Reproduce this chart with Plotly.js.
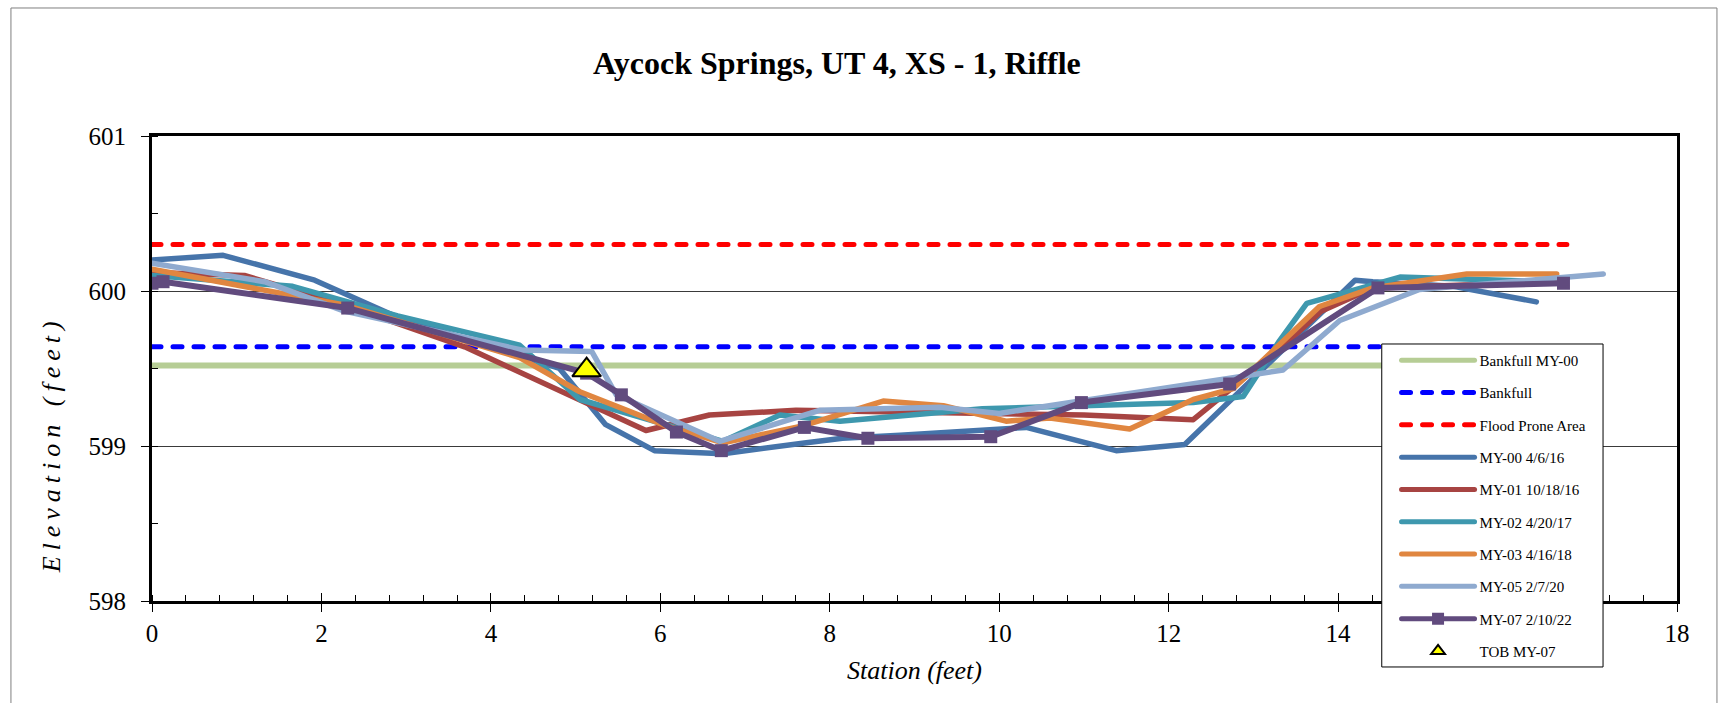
<!DOCTYPE html>
<html>
<head>
<meta charset="utf-8">
<script src="https://cdn.plot.ly/plotly-3.0.1.min.js"></script>
<style>
html, body { margin: 0; padding: 0; background: #fff; }
#chart { width: 1720px; height: 703px; }
</style>
</head>
<body>
<div id="chart"></div>
<script>
// Axis ticks (the "16" label sits hidden behind the legend in the original)
const xTickVals = [0, 2, 4, 6, 8, 10, 12, 14, 16, 18];
const xTickText = ['0', '2', '4', '6', '8', '10', '12', '14', '', '18'];

// Reference lines
const refStation = [0, 16.7];
const bankfullMY00 = [599.52, 599.52];
const bankfull = [599.64, 599.64];
const floodProne = [600.30, 600.30];

// MY-00 4/6/16
const my00X = [0.00, 0.84, 1.92, 2.90, 4.81, 5.35, 5.93, 6.74, 7.70, 8.15, 8.83, 10.32, 11.38, 12.19, 14.20, 14.41, 15.36, 16.34];
const my00Y = [600.20, 600.23, 600.07, 599.83, 599.50, 599.14, 598.97, 598.95, 599.02, 599.05, 599.07, 599.12, 598.97, 599.01, 600.07, 600.06, 600.03, 599.93];

// MY-01 10/18/16
const my01X = [0.00, 1.09, 2.27, 3.69, 5.83, 6.58, 7.60, 8.80, 10.00, 11.00, 12.29, 12.76, 13.30, 13.80, 14.41, 16.65];
const my01Y = [600.12, 600.10, 599.91, 599.64, 599.10, 599.20, 599.23, 599.22, 599.21, 599.20, 599.17, 599.38, 599.62, 599.87, 600.02, 600.06];

// MY-02 4/20/17
const my02X = [0.00, 1.66, 2.90, 4.34, 5.05, 6.74, 7.41, 8.12, 9.80, 12.29, 12.88, 13.31, 13.63, 14.73, 16.46];
const my02Y = [600.10, 600.03, 599.84, 599.65, 599.30, 599.03, 599.20, 599.16, 599.24, 599.28, 599.32, 599.68, 599.92, 600.09, 600.06];

// MY-03 4/16/18
const my03X = [0.00, 2.27, 4.34, 5.05, 6.07, 6.74, 7.68, 8.63, 9.34, 10.08, 10.60, 11.54, 12.29, 12.76, 13.78, 14.41, 15.52, 16.58];
const my03Y = [600.14, 599.91, 599.57, 599.35, 599.13, 599.02, 599.13, 599.29, 599.26, 599.16, 599.18, 599.11, 599.30, 599.37, 599.90, 600.02, 600.11, 600.11];

// MY-05 2/7/20
const my05X = [0.00, 1.33, 2.27, 4.36, 5.19, 5.48, 6.70, 7.88, 9.30, 10.00, 13.35, 14.02, 14.96, 17.13];
const my05Y = [600.18, 600.06, 599.87, 599.62, 599.61, 599.33, 599.03, 599.23, 599.25, 599.21, 599.49, 599.81, 600.01, 600.11];

// MY-07 2/10/22
const my07X = [0.00, 0.13, 2.31, 5.13, 5.54, 6.19, 6.72, 7.70, 8.45, 9.90, 10.97, 12.72, 14.47, 16.66];
const my07Y = [600.05, 600.06, 599.89, 599.47, 599.33, 599.09, 598.97, 599.12, 599.05, 599.06, 599.28, 599.40, 600.02, 600.05];

// TOB MY-07
const tobX = [5.13];
const tobY = [599.49];

const serif = 'Liberation Serif, Times New Roman, serif';

function lineTrace(name, x, y, color, width, dash, group) {
  return {
    type: 'scatter', mode: 'lines', name: name, x: x, y: y,
    line: { color: color, width: width, dash: dash || 'solid' },
    legendgroup: group, hoverinfo: 'skip'
  };
}

const traces = [
  lineTrace('Bankfull MY-00', refStation, bankfullMY00, '#b6cd95', 6, 'solid', 'g0'),
  lineTrace('Bankfull', refStation, bankfull, '#0000ff', 5, '9px,12px', 'g1'),
  lineTrace('Flood Prone Area', refStation, floodProne, '#ff0000', 5, '9px,12px', 'g2'),
  lineTrace('MY-00 4/6/16', my00X, my00Y, '#4674aa', 5.5, 'solid', 'g3'),
  lineTrace('MY-01 10/18/16', my01X, my01Y, '#a74442', 5.5, 'solid', 'g4'),
  lineTrace('MY-02 4/20/17', my02X, my02Y, '#3e98ae', 5.5, 'solid', 'g5'),
  lineTrace('MY-03 4/16/18', my03X, my03Y, '#e08640', 5.5, 'solid', 'g6'),
  lineTrace('MY-05 2/7/20', my05X, my05Y, '#8faacf', 5.5, 'solid', 'g7'),
  {
    type: 'scatter', mode: 'lines+markers', name: 'MY-07 2/10/22', x: my07X, y: my07Y,
    line: { color: '#614b7e', width: 6 },
    marker: { symbol: 'square', size: 13, color: '#614b7e' },
    legendgroup: 'g8', hoverinfo: 'skip'
  },
  {
    type: 'scatter', mode: 'markers', name: 'TOB MY-07', x: tobX, y: tobY,
    marker: { symbol: 'triangle-up', size: 25, color: '#ffff00', line: { color: '#000000', width: 2 } },
    legendgroup: 'g9', hoverinfo: 'skip'
  },
  // empty helper on the overlay axis so its inside major ticks draw
  { type: 'scatter', mode: 'none', x: [], y: [], xaxis: 'x2', showlegend: false, hoverinfo: 'skip' }
];

const layout = {
  width: 1720, height: 703,
  paper_bgcolor: '#ffffff', plot_bgcolor: '#ffffff',
  margin: { l: 152, r: 43, t: 136, b: 102, pad: 0 },
  font: { family: serif, color: '#000000', size: 25 },
  title: {
    text: 'Aycock Springs, UT 4, XS - 1, Riffle',
    font: { family: serif, size: 32, weight: 'bold', color: '#000000' },
    x: 0.4866, xanchor: 'center', y: 0.91, yanchor: 'middle'
  },
  showlegend: true,
  legend: {
    x: 0.8161, xanchor: 'left', y: 0.5527, yanchor: 'top',
    bgcolor: 'rgba(255,255,255,0)', borderwidth: 0,
    font: { family: serif, size: 15, color: '#000000' },
    itemwidth: 73, itemsizing: 'constant',
    traceorder: 'grouped', tracegroupgap: 9.8
  },
  xaxis: {
    range: [0, 18], tickmode: 'array', tickvals: xTickVals, ticktext: xTickText,
    showline: true, linecolor: '#000000', linewidth: 3, mirror: true,
    showgrid: false, zeroline: false,
    ticks: 'outside', ticklen: 8, tickwidth: 1, tickcolor: '#000000',
    minor: { dtick: 0.4, tick0: 0, ticks: 'inside', ticklen: 6, tickwidth: 1, tickcolor: '#000000', showgrid: false },
    tickfont: { family: serif, size: 25, color: '#000000' },
    title: { text: 'Station (feet)', font: { family: serif, size: 26, style: 'italic', color: '#000000' }, standoff: 15 }
  },
  xaxis2: {
    overlaying: 'x', anchor: 'y', range: [0, 18], dtick: 2, tick0: 0,
    ticks: 'inside', ticklen: 8, tickwidth: 1, tickcolor: '#000000',
    showticklabels: false, showline: false, showgrid: false, zeroline: false
  },
  yaxis: {
    range: [598, 601], dtick: 1, tick0: 598,
    showline: true, linecolor: '#000000', linewidth: 3, mirror: true,
    showgrid: true, gridcolor: '#3a3a3a', gridwidth: 1, zeroline: false,
    ticks: 'outside', ticklen: 8, tickwidth: 1, tickcolor: '#000000',
    minor: { dtick: 0.5, tick0: 598, ticks: 'inside', ticklen: 6, tickwidth: 1, tickcolor: '#000000', showgrid: false },
    tickfont: { family: serif, size: 25, color: '#000000' },
    ticklabelstandoff: 10
  },
  annotations: [{
    text: 'Elevation (feet)', xref: 'paper', yref: 'paper',
    x: -0.066, y: 0.3376, xanchor: 'center', yanchor: 'middle',
    textangle: -90, showarrow: false,
    font: { family: serif, size: 26, style: 'italic', color: '#000000' }
  }],
  shapes: [
    {
      type: 'rect', xref: 'paper', yref: 'paper',
      x0: -0.0925, x1: 1.0262, y0: -0.25, y1: 1.2753,
      line: { color: '#7f7f7f', width: 1 }, fillcolor: 'rgba(0,0,0,0)', layer: 'below'
    },
    {
      // legend box
      type: 'rect', xref: 'paper', yref: 'paper',
      x0: 0.8064, x1: 0.9515, y0: -0.1419, y1: 0.5527,
      line: { color: '#000000', width: 1 }, fillcolor: '#ffffff', layer: 'above'
    }
  ]
};

Plotly.newPlot('chart', traces, layout, { displayModeBar: false, staticPlot: true }).then(function () {
  document.querySelectorAll('.annotation-text').forEach(function (el) { el.style.letterSpacing = '6px'; });
  document.querySelectorAll('.scatterlayer path.js-line, .legend path.js-line').forEach(function (p) {
    p.style.strokeLinejoin = 'round';
    p.style.strokeLinecap = 'round';
  });
});
</script>
</body>
</html>
